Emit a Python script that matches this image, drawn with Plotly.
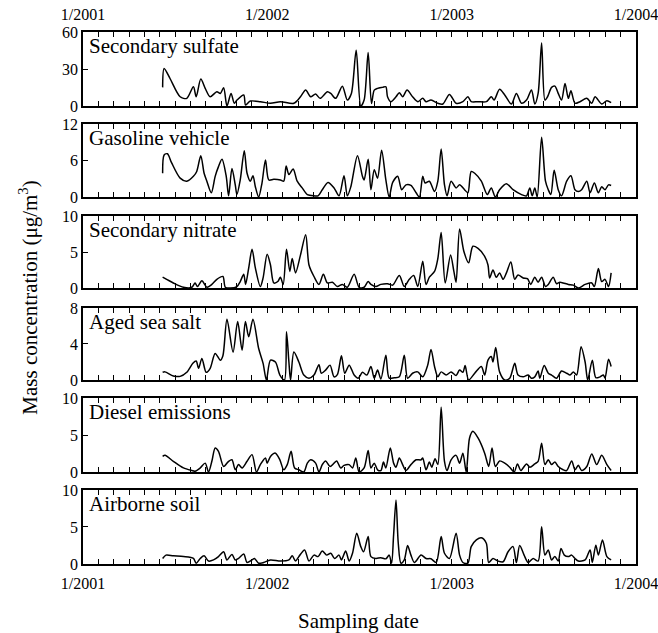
import plotly.graph_objects as go

# ---------------- data (decimal year, µg/m3) ----------------
panel_names = ["Secondary sulfate", "Gasoline vehicle", "Secondary nitrate",
               "Aged sea salt", "Diesel emissions", "Airborne soil"]
y_max = [60, 12, 10, 8, 10, 10]
y_ticks = [[0, 30, 60], [0, 6, 12], [0, 5, 10], [0, 4, 8], [0, 5, 10], [0, 5, 10]]
year_ticks = [2001, 2002, 2003, 2004]
year_labels = ["1/2001", "1/2002", "1/2003", "1/2004"]

sulfate_x = [2001.432, 2001.440, 2001.472, 2001.527, 2001.563, 2001.599, 2001.614, 2001.639, 2001.663, 2001.690,
             2001.726, 2001.745, 2001.763, 2001.781, 2001.803, 2001.821, 2001.835, 2001.872, 2001.882, 2001.908,
             2001.962, 2002.017, 2002.071, 2002.144, 2002.180, 2002.208, 2002.235, 2002.262, 2002.286, 2002.326,
             2002.344, 2002.371, 2002.407, 2002.434, 2002.456, 2002.482, 2002.507, 2002.525, 2002.547, 2002.565,
             2002.580, 2002.598, 2002.625, 2002.643, 2002.652, 2002.670, 2002.698, 2002.716, 2002.734, 2002.758,
             2002.788, 2002.816, 2002.843, 2002.861, 2002.888, 2002.925, 2002.952, 2002.988, 2003.024, 2003.061,
             2003.088, 2003.106, 2003.143, 2003.188, 2003.215, 2003.230, 2003.260, 2003.288, 2003.324, 2003.351,
             2003.379, 2003.406, 2003.433, 2003.451, 2003.469, 2003.488, 2003.506, 2003.520, 2003.542, 2003.560,
             2003.578, 2003.596, 2003.615, 2003.633, 2003.647, 2003.669, 2003.696, 2003.733, 2003.760, 2003.778,
             2003.814, 2003.842, 2003.865]
sulfate_y = [15.1, 30.4, 22.3, 7.5, 6.2, 15.6, 7.5, 21.8, 14.3, 7.5,
             11.6, 10.2, 14.8, 0.0, 10.2, 2.2, 4.8, 8.9, 0.8, 4.0,
             3.5, 2.2, 3.5, 2.2, 7.5, 12.9, 7.5, 9.7, 6.2, 11.6,
             10.2, 6.2, 16.1, 4.8, 10.2, 45.2, 0.0, 4.8, 43.3, 2.0,
             12.9, 14.3, 15.1, 15.6, 7.5, 3.5, 7.5, 10.8, 7.5, 12.9,
             7.5, 3.5, 6.2, 3.5, 4.8, 2.2, 1.6, 9.4, 2.2, 3.5,
             7.5, 3.5, 3.5, 3.5, 7.5, 4.8, 13.5, 8.9, 1.6, 10.2,
             2.2, 4.8, 12.9, 1.6, 10.2, 51.1, 4.8, 7.5, 15.1, 16.1,
             10.2, 4.8, 18.3, 6.2, 12.4, 2.2, 3.5, 6.2, 2.2, 7.5,
             1.6, 4.3, 2.7]

gasoline_x = [2001.432, 2001.440, 2001.458, 2001.481, 2001.527, 2001.563, 2001.599, 2001.617, 2001.639, 2001.657,
              2001.672, 2001.696, 2001.717, 2001.735, 2001.754, 2001.777, 2001.790, 2001.808, 2001.826, 2001.835,
              2001.853, 2001.875, 2001.890, 2001.908, 2001.922, 2001.935, 2001.953, 2001.971, 2001.990, 2002.008,
              2002.035, 2002.071, 2002.089, 2002.102, 2002.117, 2002.140, 2002.162, 2002.189, 2002.217, 2002.253,
              2002.275, 2002.298, 2002.329, 2002.362, 2002.389, 2002.416, 2002.434, 2002.453, 2002.489, 2002.516,
              2002.525, 2002.547, 2002.562, 2002.580, 2002.598, 2002.620, 2002.643, 2002.661, 2002.680, 2002.707,
              2002.729, 2002.752, 2002.779, 2002.807, 2002.825, 2002.843, 2002.856, 2002.879, 2002.907, 2002.925,
              2002.943, 2002.961, 2002.975, 2002.997, 2003.024, 2003.043, 2003.070, 2003.088, 2003.106, 2003.125,
              2003.161, 2003.193, 2003.215, 2003.237, 2003.260, 2003.297, 2003.333, 2003.379, 2003.406, 2003.424,
              2003.437, 2003.451, 2003.464, 2003.488, 2003.509, 2003.524, 2003.538, 2003.556, 2003.578, 2003.596,
              2003.624, 2003.647, 2003.669, 2003.687, 2003.705, 2003.733, 2003.751, 2003.774, 2003.796, 2003.814,
              2003.832, 2003.851, 2003.865]
gasoline_y = [3.9, 6.9, 7.1, 5.6, 3.1, 2.6, 3.4, 4.2, 6.8, 3.9,
              2.6, 0.7, 3.4, 5.0, 6.2, 3.4, 0.2, 4.7, 2.0, 0.4,
              2.8, 7.6, 3.9, 2.6, 3.5, 1.7, 0.0, 2.3, 6.1, 2.8,
              2.9, 2.8, 2.6, 5.1, 3.7, 4.6, 2.6, 1.5, 0.4, 0.2,
              0.2, 1.2, 2.4, 1.5, 0.2, 3.5, 0.2, 1.7, 6.8, 3.4,
              2.8, 6.2, 1.2, 4.5, 3.1, 7.7, 2.8, 0.0, 2.4, 3.4,
              1.2, 2.0, 1.9, 0.7, 0.0, 3.4, 2.3, 2.6, 0.9, 2.6,
              7.9, 2.0, 0.2, 2.6, 1.5, 2.0, 1.2, 0.7, 4.2, 3.9,
              2.6, 0.4, 1.5, 0.0, 1.2, 2.2, 1.2, 0.4, 0.2, 1.5,
              0.2, 1.5, 0.0, 9.8, 2.6, 1.2, 0.4, 4.4, 1.2, 0.2,
              2.6, 3.5, 1.2, 0.9, 1.2, 2.6, 0.7, 2.3, 0.7, 1.7,
              1.2, 2.0, 1.9]

nitrate_x = [2001.432, 2001.490, 2001.545, 2001.590, 2001.608, 2001.621, 2001.645, 2001.672, 2001.699, 2001.726,
             2001.759, 2001.772, 2001.799, 2001.835, 2001.853, 2001.872, 2001.882, 2001.899, 2001.917, 2001.935,
             2001.962, 2001.977, 2001.999, 2002.017, 2002.035, 2002.057, 2002.071, 2002.086, 2002.104, 2002.122,
             2002.135, 2002.153, 2002.180, 2002.208, 2002.226, 2002.253, 2002.280, 2002.304, 2002.326, 2002.353,
             2002.380, 2002.407, 2002.434, 2002.471, 2002.498, 2002.525, 2002.547, 2002.562, 2002.589, 2002.616,
             2002.652, 2002.680, 2002.716, 2002.743, 2002.770, 2002.794, 2002.816, 2002.843, 2002.861, 2002.879,
             2002.907, 2002.925, 2002.943, 2002.965, 2002.994, 2003.012, 2003.024, 2003.043, 2003.066, 2003.092,
             2003.115, 2003.143, 2003.179, 2003.197, 2003.206, 2003.224, 2003.242, 2003.260, 2003.279, 2003.297,
             2003.321, 2003.342, 2003.360, 2003.388, 2003.411, 2003.429, 2003.451, 2003.469, 2003.488, 2003.509,
             2003.524, 2003.551, 2003.569, 2003.587, 2003.605, 2003.633, 2003.660, 2003.687, 2003.724, 2003.760,
             2003.774, 2003.796, 2003.814, 2003.832, 2003.851, 2003.865]
nitrate_y = [1.5, 0.7, 0.1, 0.1, 0.7, 0.2, 1.0, 0.1, 0.5, 1.2,
             1.6, 0.1, 0.0, 0.2, 0.9, 1.9, 0.5, 2.8, 5.4, 2.8,
             0.2, 1.4, 4.7, 3.2, 0.7, 0.9, 1.5, 0.5, 5.4, 2.3,
             4.1, 2.1, 4.6, 7.4, 3.2, 1.6, 0.5, 1.9, 0.7, 0.8,
             0.2, 0.5, 0.1, 1.9, 0.1, 0.1, 0.9, 0.5, 0.2, 0.5,
             0.6, 0.4, 1.75, 0.2, 1.2, 1.75, 0.2, 3.7, 0.5, 1.5,
             2.3, 4.1, 7.7, 0.7, 4.6, 2.3, 0.8, 8.2, 5.1, 3.5,
             5.8, 5.5, 4.4, 3.2, 1.4, 2.5, 1.5, 2.1, 1.2, 2.1,
             3.6, 1.2, 1.8, 1.4, 1.3, 0.5, 1.5, 0.8, 1.5, 0.2,
             0.5, 1.5, 0.6, 0.8, 0.7, 0.5, 0.4, 0.0, 0.5, 0.7,
             0.2, 2.7, 0.9, 1.2, 0.2, 2.1]

seasalt_x = [2001.432, 2001.445, 2001.490, 2001.527, 2001.563, 2001.596, 2001.614, 2001.627, 2001.645, 2001.668,
             2001.690, 2001.717, 2001.745, 2001.759, 2001.781, 2001.814, 2001.839, 2001.863, 2001.881, 2001.899,
             2001.922, 2001.953, 2001.977, 2001.995, 2002.017, 2002.044, 2002.068, 2002.093, 2002.104, 2002.117,
             2002.126, 2002.144, 2002.171, 2002.198, 2002.226, 2002.253, 2002.280, 2002.293, 2002.316, 2002.340,
             2002.362, 2002.380, 2002.402, 2002.420, 2002.444, 2002.471, 2002.493, 2002.516, 2002.540, 2002.562,
             2002.580, 2002.598, 2002.616, 2002.643, 2002.661, 2002.689, 2002.716, 2002.743, 2002.761, 2002.788,
             2002.816, 2002.843, 2002.870, 2002.888, 2002.907, 2002.925, 2002.943, 2002.970, 2002.997, 2003.024,
             2003.043, 2003.061, 2003.073, 2003.092, 2003.125, 2003.161, 2003.179, 2003.197, 2003.215, 2003.224,
             2003.239, 2003.260, 2003.288, 2003.315, 2003.342, 2003.360, 2003.388, 2003.415, 2003.433, 2003.451,
             2003.469, 2003.478, 2003.502, 2003.524, 2003.542, 2003.569, 2003.596, 2003.624, 2003.642, 2003.660,
             2003.678, 2003.702, 2003.724, 2003.738, 2003.763, 2003.782, 2003.805, 2003.823, 2003.832, 2003.851,
             2003.865]
seasalt_y = [0.85, 0.9, 0.45, 0.4, 0.85, 1.85, 2.1, 1.3, 2.4, 0.85,
             1.3, 2.95, 2.2, 2.7, 6.75, 3.1, 6.5, 3.3, 6.5, 4.8,
             6.75, 3.5, 1.85, 0.0, 2.2, 2.0, 0.55, 0.0, 5.35, 2.0,
             0.0, 3.1, 2.0, 0.55, 0.2, 0.55, 1.7, 0.75, 1.1, 1.65,
             0.35, 0.6, 2.7, 0.75, 1.65, 0.55, 0.2, 0.85, 0.55, 1.5,
             0.2, 1.1, 0.1, 2.75, 0.2, 0.25, 0.35, 2.75, 0.2, 0.75,
             0.9, 0.35, 1.65, 3.4, 1.5, 0.35, 0.9, 0.55, 0.9, 0.5,
             1.1, 0.85, 1.6, 0.0, 0.75, 1.5, 0.55, 2.2, 2.6, 2.0,
             3.6, 0.9, 0.0, 0.2, 1.85, 0.55, 0.35, 0.55, 0.2, 0.35,
             1.0, 0.2, 1.6, 0.75, 0.55, 0.2, 1.0, 0.75, 0.55, 0.9,
             0.55, 3.7, 2.0, 0.0, 2.2, 0.25, 0.35, 0.55, 0.2, 2.3,
             1.5]

diesel_x = [2001.432, 2001.445, 2001.490, 2001.545, 2001.590, 2001.608, 2001.636, 2001.663, 2001.681, 2001.699,
            2001.717, 2001.735, 2001.763, 2001.790, 2001.808, 2001.826, 2001.844, 2001.863, 2001.890, 2001.917,
            2001.941, 2001.962, 2001.990, 2001.999, 2002.017, 2002.044, 2002.068, 2002.089, 2002.108, 2002.129,
            2002.148, 2002.171, 2002.198, 2002.217, 2002.235, 2002.262, 2002.280, 2002.298, 2002.316, 2002.340,
            2002.362, 2002.376, 2002.398, 2002.416, 2002.444, 2002.462, 2002.480, 2002.498, 2002.525, 2002.547,
            2002.562, 2002.580, 2002.598, 2002.616, 2002.630, 2002.643, 2002.667, 2002.685, 2002.698, 2002.716,
            2002.734, 2002.752, 2002.779, 2002.807, 2002.834, 2002.843, 2002.861, 2002.879, 2002.892, 2002.910,
            2002.925, 2002.943, 2002.961, 2002.975, 2002.997, 2003.024, 2003.043, 2003.061, 2003.079, 2003.097,
            2003.115, 2003.143, 2003.179, 2003.201, 2003.219, 2003.237, 2003.260, 2003.288, 2003.315, 2003.339,
            2003.357, 2003.375, 2003.406, 2003.424, 2003.451, 2003.469, 2003.488, 2003.506, 2003.524, 2003.542,
            2003.560, 2003.578, 2003.605, 2003.624, 2003.651, 2003.669, 2003.687, 2003.705, 2003.733, 2003.760,
            2003.787, 2003.814, 2003.842, 2003.865]
diesel_y = [2.1, 2.25, 1.45, 0.55, 0.2, 0.1, 0.55, 1.2, 0.0, 1.45,
            3.25, 2.8, 0.75, 1.45, 1.65, 0.3, 1.0, 0.55, 1.45, 2.35,
            0.0, 1.0, 1.9, 1.2, 2.1, 2.55, 1.65, 0.3, 1.0, 2.8,
            0.55, 0.3, 0.0, 1.2, 1.65, 1.2, 0.0, 1.0, 1.5, 0.75,
            1.2, 1.5, 0.55, 0.9, 1.0, 0.55, 1.9, 0.0, 0.55, 2.9,
            0.55, 1.2, 0.3, 0.2, 1.35, 0.55, 3.25, 1.2, 0.65, 1.9,
            1.0, 0.2, 1.0, 1.65, 1.65, 1.9, 0.3, 1.35, 0.65, 1.8,
            1.0, 8.75, 1.45, 0.2, 1.65, 2.25, 1.2, 2.55, 0.0, 4.6,
            5.5, 4.6, 2.55, 0.75, 3.25, 0.75, 1.5, 1.2, 0.65, 0.0,
            1.1, 0.2, 1.1, 0.65, 1.1, 1.45, 3.9, 1.0, 1.65, 1.0,
            1.35, 0.75, 0.3, 0.2, 1.5, 0.3, 0.9, 0.2, 0.75, 2.45,
            1.0, 2.25, 1.0, 0.2]

soil_x = [2001.432, 2001.450, 2001.490, 2001.545, 2001.599, 2001.614, 2001.636, 2001.657, 2001.681, 2001.708,
          2001.735, 2001.763, 2001.781, 2001.808, 2001.826, 2001.844, 2001.872, 2001.890, 2001.917, 2001.930,
          2001.953, 2001.980, 2002.017, 2002.071, 2002.117, 2002.135, 2002.153, 2002.171, 2002.202, 2002.226,
          2002.253, 2002.275, 2002.298, 2002.322, 2002.344, 2002.365, 2002.389, 2002.402, 2002.425, 2002.444,
          2002.462, 2002.485, 2002.507, 2002.522, 2002.547, 2002.562, 2002.589, 2002.616, 2002.643, 2002.661,
          2002.674, 2002.685, 2002.698, 2002.710, 2002.725, 2002.743, 2002.761, 2002.779, 2002.798, 2002.834,
          2002.861, 2002.888, 2002.916, 2002.943, 2002.961, 2002.988, 2003.024, 2003.043, 2003.061, 2003.088,
          2003.106, 2003.134, 2003.161, 2003.188, 2003.201, 2003.224, 2003.251, 2003.279, 2003.306, 2003.333,
          2003.351, 2003.369, 2003.393, 2003.415, 2003.442, 2003.469, 2003.488, 2003.506, 2003.524, 2003.542,
          2003.560, 2003.578, 2003.593, 2003.611, 2003.633, 2003.651, 2003.669, 2003.687, 2003.724, 2003.751,
          2003.763, 2003.782, 2003.796, 2003.818, 2003.842, 2003.865]
soil_y = [0.75, 1.2, 1.1, 1.0, 0.75, 0.1, 0.75, 1.1, 0.4, 0.55,
          1.0, 1.65, 0.55, 1.3, 0.55, 0.75, 1.35, 0.2, 0.55, 0.75,
          0.1, 0.2, 0.55, 0.4, 0.55, 1.1, 0.4, 1.0, 1.9, 0.4,
          1.2, 1.0, 1.75, 1.2, 1.45, 0.75, 1.2, 0.55, 1.75, 0.4,
          1.45, 4.15, 2.35, 1.65, 3.7, 1.0, 0.75, 0.85, 0.7, 1.2,
          0.1, 3.9, 8.65, 2.9, 0.1, 0.55, 2.5, 1.2, 0.2, 1.2,
          0.75, 0.7, 0.2, 3.7, 1.45, 0.75, 4.15, 1.2, 0.2, 0.1,
          2.35, 3.25, 3.55, 2.8, 0.2, 0.75, 0.4, 0.3, 1.65, 2.35,
          0.2, 2.5, 1.2, 0.2, 0.75, 0.4, 5.05, 1.2, 1.9, 0.55,
          1.0, 0.4, 2.1, 1.2, 1.0, 1.2, 0.75, 0.4, 0.55, 1.9,
          0.2, 2.55, 1.2, 3.25, 1.0, 0.55]

series_x = [sulfate_x, gasoline_x, nitrate_x, seasalt_x, diesel_x, soil_x]
series_y = [sulfate_y, gasoline_y, nitrate_y, seasalt_y, diesel_y, soil_y]
for sx, sy in zip(series_x, series_y):
    assert len(sx) == len(sy), (len(sx), len(sy))

# ---------------- layout ----------------
FONT = "Liberation Serif"
domains = [(0.8609, 1.0), (0.6898, 0.8271), (0.5188, 0.6541),
           (0.3459, 0.4812), (0.1729, 0.3120), (0.0, 0.1391)]

fig = go.Figure()
annotations = []
layout_axes = {}
for i in range(6):
    n = "" if i == 0 else str(i + 1)
    fig.add_trace(go.Scatter(
        x=series_x[i], y=series_y[i], mode="lines",
        line=dict(color="black", width=1.5, shape="spline", smoothing=0.8),
        xaxis="x" + n, yaxis="y" + n, showlegend=False, hoverinfo="skip"))
    show_lbl = i in (0, 5)
    layout_axes["xaxis" + n] = dict(
        domain=[0, 1], anchor="y" + n, range=[2001, 2004],
        tickvals=year_ticks, ticktext=year_labels,
        showticklabels=show_lbl, side="top" if i == 0 else "bottom",
        ticklabeloverflow="allow", ticklabelstandoff=4,
        ticks="inside", ticklen=5, tickwidth=1, tickcolor="black",
        minor=dict(tick0=2001, dtick=1 / 12, ticks="inside", ticklen=5,
                   tickwidth=1, tickcolor="black", showgrid=False),
        showline=True, linecolor="black", linewidth=1.5, mirror="ticks",
        showgrid=False, zeroline=False, automargin=False,
        tickfont=dict(family=FONT, size=16, color="black"))
    layout_axes["yaxis" + n] = dict(
        domain=list(domains[i]), anchor="x" + n, range=[0, y_max[i]],
        tickvals=y_ticks[i], ticks="inside", ticklen=5, tickwidth=1,
        tickcolor="black", showline=True, linecolor="black", linewidth=1.5,
        mirror=True, showgrid=False, zeroline=False, automargin=False,
        tickfont=dict(family=FONT, size=16, color="black"))
    annotations.append(dict(
        text=panel_names[i], xref="x" + n + " domain", yref="y" + n + " domain",
        x=0.008, y=1.0, xanchor="left", yanchor="top", showarrow=False,
        font=dict(family=FONT, size=21, color="black")))

annotations.append(dict(
    text="Mass concentration (μg/m<sup>3</sup>)", xref="paper", yref="paper",
    x=-0.1, y=0.5, xanchor="center", yanchor="middle", textangle=-90,
    showarrow=False, font=dict(family=FONT, size=21, color="black")))
annotations.append(dict(
    text="Sampling date", xref="paper", yref="paper",
    x=0.498, y=-0.107, xanchor="center", yanchor="middle",
    showarrow=False, font=dict(family=FONT, size=21, color="black")))

fig.update_layout(
    width=658, height=633,
    margin=dict(l=83, r=22, t=32, b=69, autoexpand=False),
    paper_bgcolor="white", plot_bgcolor="white",
    annotations=annotations, **layout_axes)

fig.write_html("out.html", config={"displayModeBar": False},
               post_script="document.body.style.margin='0px';document.body.style.overflow='hidden';")
